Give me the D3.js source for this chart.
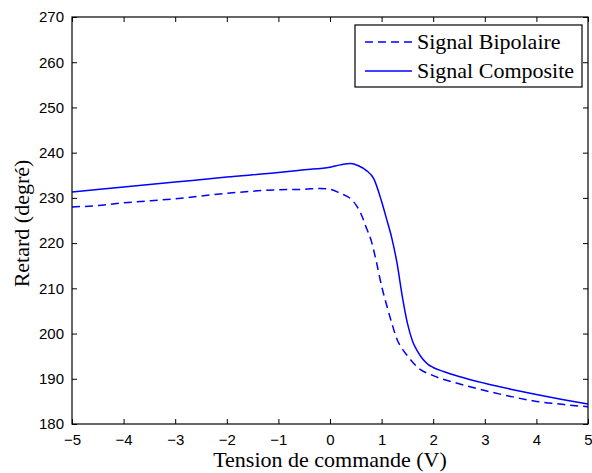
<!DOCTYPE html>
<html>
<head>
<meta charset="utf-8">
<script src="https://cdn.jsdelivr.net/npm/d3@7"></script>
<style>
  body { margin: 0; background: #fff; }
  svg { display: block; }
</style>
</head>
<body>
<div id="chart"></div>
<script>
// data
const bipolaireX = [-5, -4.5, -4, -3, -2, -1, -0.5, -0.2, 0, 0.2, 0.4, 0.5, 0.6, 0.7, 0.8, 0.9, 1.0, 1.1, 1.2, 1.3, 1.4, 1.5, 1.7, 2.0, 2.5, 3.0, 3.5, 4.0, 4.5, 5.0];
const bipolaireY = [228.0, 228.3, 228.9, 229.8, 231.0, 231.8, 231.9, 232.1, 231.9, 231.0, 229.8, 228.5, 226.5, 223.5, 220.5, 215.8, 210.5, 206.2, 202.2, 198.7, 196.6, 195.1, 192.5, 190.7, 188.9, 187.4, 186.1, 185.0, 184.35, 183.8];

const compositeX = [-5, -4, -3, -2, -1, -0.5, 0, 0.2, 0.4, 0.55, 0.7, 0.85, 1.0, 1.1, 1.2, 1.3, 1.4, 1.5, 1.6, 1.7, 1.8, 1.9, 2.0, 2.2, 2.5, 3.0, 3.5, 4.0, 4.5, 5.0];
const compositeY = [231.3, 232.4, 233.5, 234.6, 235.6, 236.2, 236.8, 237.3, 237.6, 237.1, 236.1, 234.2, 229.2, 225.2, 221.0, 215.5, 208.3, 202.3, 198.3, 196.0, 194.3, 193.2, 192.5, 191.6, 190.5, 189.0, 187.7, 186.5, 185.4, 184.4];

const xTicks = [-5, -4, -3, -2, -1, 0, 1, 2, 3, 4, 5];
const yTicks = [180, 190, 200, 210, 220, 230, 240, 250, 260, 270];

const seriesNames = ['Signal Bipolaire', 'Signal Composite'];

const WIDTH = 592;
const HEIGHT = 473;
const margin = { top: 17, right: 4, bottom: 49, left: 72 };
const LINE_COLOR = '#0000ff';
const DASH = '8,5';

const svg = d3.select('#chart').append('svg')
    .attr('width', WIDTH)
    .attr('height', HEIGHT);

const x = d3.scaleLinear().domain([-5, 5]).range([margin.left, WIDTH - margin.right]);
const y = d3.scaleLinear().domain([180, 270]).range([HEIGHT - margin.bottom, margin.top]);

const plotW = x.range()[1] - x.range()[0];
const plotH = y.range()[0] - y.range()[1];

// lines
const line = d3.line()
    .x(d => x(d[0]))
    .y(d => y(d[1]))
    .curve(d3.curveMonotoneX);

const series = [
    { name: seriesNames[0], pts: d3.zip(bipolaireX, bipolaireY), dash: DASH },
    { name: seriesNames[1], pts: d3.zip(compositeX, compositeY), dash: null }
];

svg.append('clipPath').attr('id', 'clip')
    .append('rect')
    .attr('x', x.range()[0]).attr('y', y.range()[1])
    .attr('width', plotW).attr('height', plotH);

const g = svg.append('g').attr('clip-path', 'url(#clip)');
series.forEach(s => {
    g.append('path')
        .datum(s.pts)
        .attr('d', line)
        .attr('fill', 'none')
        .attr('stroke', LINE_COLOR)
        .attr('stroke-width', 1.5)
        .attr('stroke-dasharray', s.dash);
});

// axes, matlab style: inward ticks on all four sides
const tickFont = '15px "Liberation Sans", Arial, sans-serif';

const xAxisBottom = d3.axisBottom(x).tickValues(xTicks).tickSizeInner(-5).tickSizeOuter(0)
    .tickPadding(10).tickFormat(d => d < 0 ? '\u2212' + Math.abs(d) : d);
const xAxisTop = d3.axisTop(x).tickValues(xTicks).tickSizeInner(-5).tickSizeOuter(0).tickFormat('');
const yAxisLeft = d3.axisLeft(y).tickValues(yTicks).tickSizeInner(-5).tickSizeOuter(0).tickPadding(8);
const yAxisRight = d3.axisRight(y).tickValues(yTicks).tickSizeInner(-5).tickSizeOuter(0).tickFormat('');

function styleAxis(sel) {
    sel.select('.domain').remove();
    sel.selectAll('line').attr('stroke', '#000').attr('stroke-width', 1);
    sel.selectAll('text').style('font', tickFont).attr('fill', '#000');
}

svg.append('g').attr('transform', `translate(0,${y.range()[0]})`).call(xAxisBottom).call(styleAxis);
svg.append('g').attr('transform', `translate(0,${y.range()[1]})`).call(xAxisTop).call(styleAxis);
svg.append('g').attr('transform', `translate(${x.range()[0]},0)`).call(yAxisLeft).call(styleAxis);
svg.append('g').attr('transform', `translate(${x.range()[1]},0)`).call(yAxisRight).call(styleAxis);

// frame
svg.append('rect')
    .attr('x', x.range()[0]).attr('y', y.range()[1])
    .attr('width', plotW).attr('height', plotH)
    .attr('fill', 'none').attr('stroke', '#000').attr('stroke-width', 1.2);

// axis titles
const titleFont = '22px "Liberation Serif", "Times New Roman", serif';
svg.append('text')
    .attr('x', (x.range()[0] + x.range()[1]) / 2)
    .attr('y', 467)
    .attr('text-anchor', 'middle')
    .style('font', titleFont)
    .text('Tension de commande (V)');

svg.append('text')
    .attr('transform', `translate(29,${(y.range()[0] + y.range()[1]) / 2 + 3}) rotate(-90)`)
    .attr('text-anchor', 'middle')
    .style('font', titleFont)
    .text('Retard (degré)');

// legend
const legend = svg.append('g').attr('transform', 'translate(355,25)');
legend.append('rect')
    .attr('width', 227).attr('height', 62)
    .attr('fill', '#fff').attr('stroke', '#000').attr('stroke-width', 1.2);

series.forEach((s, i) => {
    const ly = 17 + i * 29;
    legend.append('line')
        .attr('x1', 10).attr('x2', 57)
        .attr('y1', ly).attr('y2', ly)
        .attr('stroke', LINE_COLOR).attr('stroke-width', 1.5)
        .attr('stroke-dasharray', s.dash);
    legend.append('text')
        .attr('x', 62).attr('y', ly + 6.5)
        .style('font', titleFont)
        .text(s.name);
});
</script>
</body>
</html>
